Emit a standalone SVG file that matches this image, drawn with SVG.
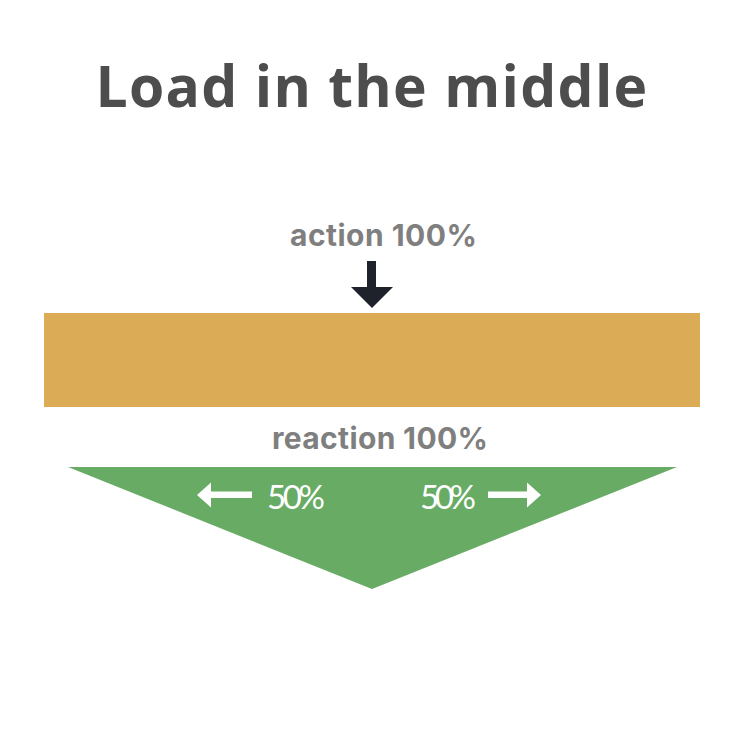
<svg xmlns="http://www.w3.org/2000/svg" width="748" height="756" viewBox="0 0 748 756">
<style>
.title{font-family:"Open Sans","Liberation Sans",sans-serif;font-weight:700;font-size:57px;fill:#4d4d4d;letter-spacing:1.3px}
.lbl{font-family:Inter,"Liberation Sans",sans-serif;font-weight:700;font-size:30px;fill:#7f7f7f}
.pct{font-family:Lato,"Liberation Sans",sans-serif;font-weight:400;font-size:33px;fill:#ffffff}
</style>
<rect width="748" height="756" fill="#ffffff"/>
<text class="title" x="372" y="107" text-anchor="middle">Load in the middle</text>
<g id="action">
<text class="lbl" x="290" y="246" textLength="187">action 100%</text>
</g>
<g id="beam">
<rect x="44" y="313" width="656" height="94" fill="#dcab56"/>
</g>
<g id="reaction">
<text class="lbl" x="272" y="449" textLength="216">reaction 100%</text>
</g>
<g id="support">
<polygon points="68,467 677,467 372,589" fill="#67ab64"/>
<text class="pct" x="267" y="509" textLength="58">50%</text>
<text class="pct" x="420" y="509" textLength="56">50%</text>
</g>
<g id="connectors">
<polygon points="367,261 376,261 376,287 393,287 372,308 351,287 367,287" fill="#1e222b"/>
<polygon points="197,495 211,482.5 211,491.5 252,491.5 252,498 211,498 211,507.5" fill="#ffffff"/>
<polygon points="541,495 527,482.5 527,491.5 488,491.5 488,498 527,498 527,507.5" fill="#ffffff"/>
</g>
</svg>
